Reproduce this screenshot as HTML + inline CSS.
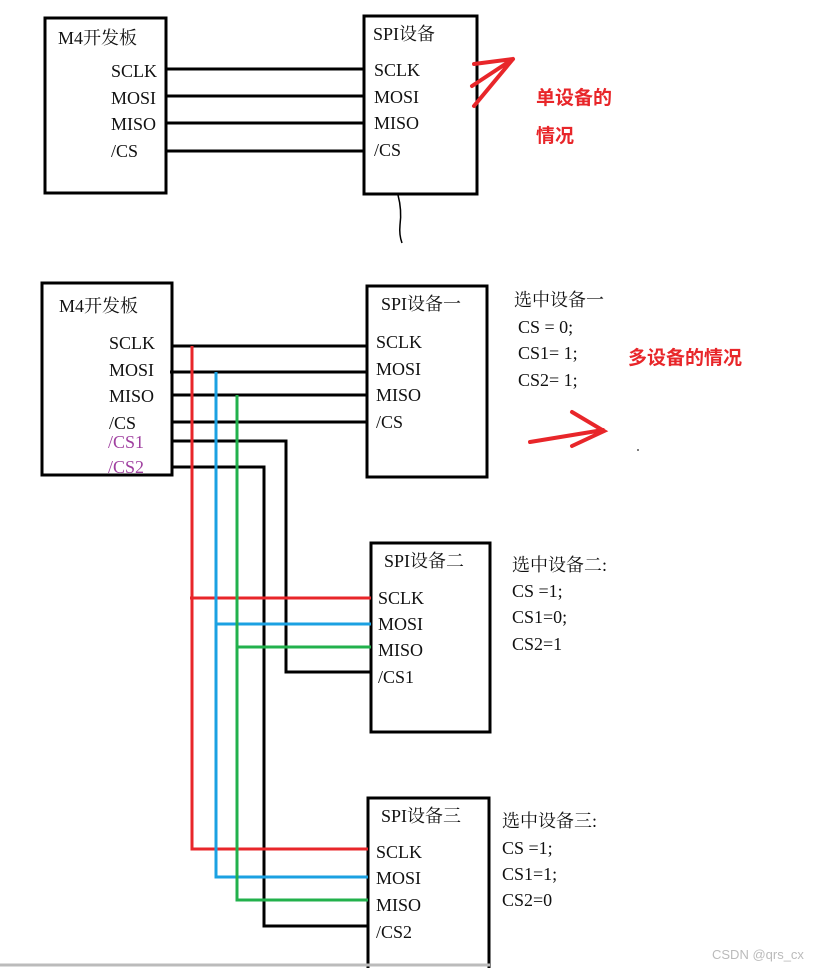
<!DOCTYPE html>
<html><head><meta charset="utf-8"><style>
html,body{margin:0;padding:0;background:#fff;}
svg{display:block;}
text{font-family:"Liberation Serif","Noto Serif CJK SC",serif;font-size:18px;fill:#111;}
.r{font-family:"Liberation Sans","Noto Sans CJK SC",sans-serif;font-weight:bold;fill:#e8262a;font-size:19px;}
</style></head><body>
<svg width="822" height="968" viewBox="0 0 822 968" xmlns="http://www.w3.org/2000/svg">
<g fill="none" stroke="#000" stroke-width="3">
<rect x="45" y="18" width="121" height="175"/>
<rect x="364" y="16" width="113" height="178"/>
<rect x="42" y="283" width="130" height="192"/>
<rect x="367" y="286" width="120" height="191"/>
<rect x="371" y="543" width="119" height="189"/>
<rect x="368" y="798" width="121" height="175"/>
</g>
<g stroke="#000" stroke-width="3">
<line x1="166" y1="69" x2="364" y2="69"/>
<line x1="166" y1="96" x2="364" y2="96"/>
<line x1="166" y1="123" x2="364" y2="123"/>
<line x1="166" y1="151" x2="364" y2="151"/>
<line x1="172" y1="346" x2="367" y2="346"/>
<line x1="170" y1="372" x2="367" y2="372"/>
<line x1="172" y1="395" x2="367" y2="395"/>
<line x1="172" y1="422" x2="367" y2="422"/>
</g>
<path d="M398 195 Q402 210 400 225 Q399 235 402 243" stroke="#000" stroke-width="1.5" fill="none"/>
<g fill="none" stroke-width="3">
<polyline stroke="#000" points="172,441 286,441 286,672 371,672"/>
<polyline stroke="#000" points="172,467 264,467 264,926 368,926"/>
<polyline stroke="#e8262a" points="192,346 192,849 368,849"/>
<polyline stroke="#e8262a" points="190,598 371,598"/>
<polyline stroke="#1ba1e2" points="216,372 216,877 368,877"/>
<polyline stroke="#1ba1e2" points="216,624 371,624"/>
<polyline stroke="#22b14c" points="237,395 237,900 368,900"/>
<polyline stroke="#22b14c" points="237,647 371,647"/>
</g>
<g stroke="#e8262a" stroke-width="4" fill="none" stroke-linecap="round">
<path d="M474 64 L513 59 M472 86 L513 59 M474 106 L513 59"/>
<path d="M530 442 L603 430 M572 412 L604 431 L572 446"/>
</g>
<circle cx="638" cy="450" r="1" fill="#555"/>
<line x1="0" y1="965" x2="490" y2="965" stroke="#bbb" stroke-width="3"/>
<text x="58" y="44">M4开发板</text>
<text x="111" y="77">SCLK</text><text x="111" y="104">MOSI</text><text x="111" y="130">MISO</text><text x="111" y="157">/CS</text>
<text x="373" y="40">SPI设备</text>
<text x="374" y="76">SCLK</text><text x="374" y="103">MOSI</text><text x="374" y="129">MISO</text><text x="374" y="156">/CS</text>
<text class="r" x="536" y="104">单设备的</text>
<text class="r" x="536" y="142">情况</text>
<text x="59" y="312">M4开发板</text>
<text x="109" y="349">SCLK</text><text x="109" y="376">MOSI</text><text x="109" y="402">MISO</text><text x="109" y="429">/CS</text>
<text x="108" y="448" style="fill:#a040a0">/CS1</text><text x="108" y="473" style="fill:#a040a0">/CS2</text>
<text x="381" y="310">SPI设备一</text>
<text x="376" y="348">SCLK</text><text x="376" y="375">MOSI</text><text x="376" y="401">MISO</text><text x="376" y="428">/CS</text>
<text x="514" y="306">选中设备一</text>
<text x="518" y="333">CS = 0;</text><text x="518" y="359">CS1= 1;</text><text x="518" y="386">CS2= 1;</text>
<text class="r" x="628" y="364">多设备的情况</text>
<text x="384" y="567">SPI设备二</text>
<text x="378" y="604">SCLK</text><text x="378" y="630">MOSI</text><text x="378" y="656">MISO</text><text x="378" y="683">/CS1</text>
<text x="512" y="571">选中设备二:</text>
<text x="512" y="597">CS =1;</text><text x="512" y="623">CS1=0;</text><text x="512" y="650">CS2=1</text>
<text x="381" y="822">SPI设备三</text>
<text x="376" y="858">SCLK</text><text x="376" y="884">MOSI</text><text x="376" y="911">MISO</text><text x="376" y="938">/CS2</text>
<text x="502" y="827">选中设备三:</text>
<text x="502" y="854">CS =1;</text><text x="502" y="880">CS1=1;</text><text x="502" y="906">CS2=0</text>
<text x="712" y="959" style="font-family:'Liberation Sans',sans-serif;font-size:13px;fill:#bbb">CSDN @qrs_cx</text>
</svg>
</body></html>
